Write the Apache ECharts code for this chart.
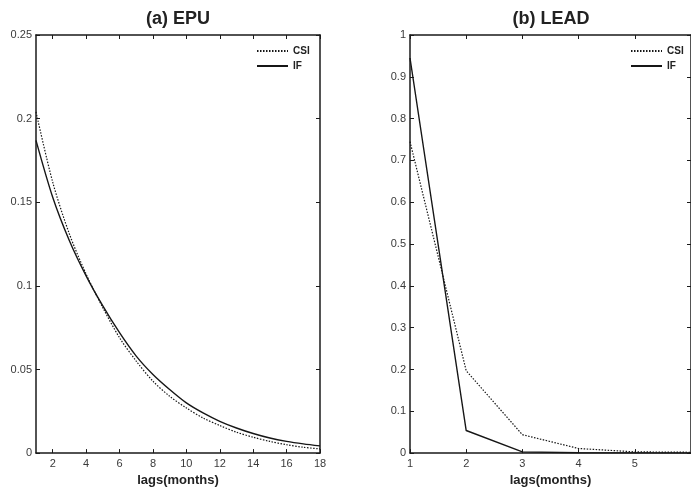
<!DOCTYPE html>
<html>
<head>
<meta charset="utf-8">
<script src="https://cdn.jsdelivr.net/npm/echarts@6/dist/echarts.min.js"></script>
<style>
html,body{margin:0;padding:0;background:#fff;}
#chart{width:691px;height:492px;}
</style>
</head>
<body>
<div id="chart"></div>
<script>
// ---- data ----
var epuLags = [1,2,3,4,5,6,7,8,9,10,11,12,13,14,15,16,17,18];
var epuCSI  = [0.204,0.162,0.131,0.107,0.087,0.069,0.055,0.043,0.034,0.027,0.021,0.0165,0.0125,0.0095,0.007,0.005,0.0035,0.0025];
var epuIF   = [0.187,0.153,0.127,0.106,0.088,0.072,0.058,0.047,0.038,0.030,0.024,0.019,0.015,0.0117,0.009,0.007,0.0055,0.0043];
var leadLags = [1,2,3,4,5,6];
var leadCSI  = [0.745,0.197,0.044,0.011,0.003,0.002];
var leadIF   = [0.945,0.054,0.003,0.001,0.0005,0.0];
var epuXTicks  = [2,4,6,8,10,12,14,16,18];
var leadXTicks = [1,2,3,4,5];
var titles = ['(a) EPU', '(b) LEAD'];
var xName = 'lags(months)';
var seriesNames = ['CSI', 'IF'];

function pairs(xs, ys){ return xs.map(function(x,i){ return [x, ys[i]]; }); }

var FONT = 'Liberation Sans, Arial, Helvetica, sans-serif';
var AX = '#1a1a1a';
var LBL = '#3a3a3a';

function xBottom(grid, min, max, ticks){
  return {
    gridIndex: grid, type: 'value', position: 'bottom', min: min, max: max,
    axisLine: {show: true, onZero: false, lineStyle: {color: AX, width: 1.5}},
    axisTick: {show: true, inside: true, length: 4, customValues: ticks, lineStyle: {color: AX, width: 1}},
    axisLabel: {customValues: ticks, color: LBL, fontSize: 11, fontFamily: FONT, margin: 5},
    splitLine: {show: false},
    name: xName, nameLocation: 'middle', nameGap: 16,
    nameTextStyle: {fontSize: 13, fontWeight: 'bold', color: '#222', fontFamily: FONT}
  };
}
function xTop(grid, min, max, ticks){
  return {
    gridIndex: grid, type: 'value', position: 'top', min: min, max: max,
    axisLine: {show: true, onZero: false, lineStyle: {color: AX, width: 1.5}},
    axisTick: {show: true, inside: true, length: 4, customValues: ticks, lineStyle: {color: AX, width: 1}},
    axisLabel: {show: false, customValues: ticks},
    splitLine: {show: false}
  };
}
function yLeft(grid, max, interval){
  return {
    gridIndex: grid, type: 'value', position: 'left', min: 0, max: max, interval: interval,
    axisLine: {show: true, onZero: false, lineStyle: {color: AX, width: 1.5}},
    axisTick: {show: true, inside: true, length: 4, lineStyle: {color: AX, width: 1}},
    axisLabel: {color: LBL, fontSize: 11, fontFamily: FONT, margin: 4},
    splitLine: {show: false}
  };
}
function yRight(grid, max, interval){
  return {
    gridIndex: grid, type: 'value', position: 'right', min: 0, max: max, interval: interval,
    axisLine: {show: true, onZero: false, lineStyle: {color: AX, width: 1.5}},
    axisTick: {show: true, inside: true, length: 4, lineStyle: {color: AX, width: 1}},
    axisLabel: {show: false},
    splitLine: {show: false}
  };
}
function line(name, xi, yi, data, dotted, smooth){
  return {
    name: name, type: 'line', xAxisIndex: xi, yAxisIndex: yi, data: data,
    symbol: 'none', showSymbol: false, smooth: smooth ? 0.3 : false,
    lineStyle: {color: '#161616', width: dotted ? 1.2 : 1.4, type: dotted ? [1.5, 1.5] : 'solid'},
    itemStyle: {color: '#161616'},
    animation: false, silent: true
  };
}
function legend(left){
  return {data: seriesNames, orient: 'vertical', left: left, top: 46, padding: 0,
    itemWidth: 31, itemHeight: 10, itemGap: 5, selectedMode: false,
    itemStyle: {opacity: 0},
    textStyle: {fontSize: 10, fontWeight: 'bold', color: '#222', fontFamily: FONT}};
}
function title(text, x){
  return {text: text, left: x, textAlign: 'center', top: 10, padding: 0,
    textStyle: {fontSize: 18, fontWeight: 'bold', color: '#222', fontFamily: FONT}};
}

var chart = echarts.init(document.getElementById('chart'), null, {renderer: 'canvas'});
chart.setOption({
  backgroundColor: '#fff',
  animation: false,
  title: [title(titles[0], 178), title(titles[1], 551)],
  legend: [legend(256), legend(630)],
  grid: [
    {left: 36, right: 371, top: 35, bottom: 35, containLabel: false},
    {left: 410, right: -2, top: 35, bottom: 35, containLabel: false}
  ],
  xAxis: [
    xBottom(0, 1, 18, epuXTicks), xTop(0, 1, 18, epuXTicks),
    xBottom(1, 1, 6, leadXTicks), xTop(1, 1, 6, leadXTicks)
  ],
  yAxis: [
    yLeft(0, 0.25, 0.05), yRight(0, 0.25, 0.05),
    yLeft(1, 1, 0.1), yRight(1, 1, 0.1)
  ],
  series: [
    line(seriesNames[0], 0, 0, pairs(epuLags, epuCSI), true, true),
    line(seriesNames[1], 0, 0, pairs(epuLags, epuIF), false, true),
    line(seriesNames[0], 2, 2, pairs(leadLags, leadCSI), true, false),
    line(seriesNames[1], 2, 2, pairs(leadLags, leadIF), false, false)
  ]
});
</script>
</body>
</html>
